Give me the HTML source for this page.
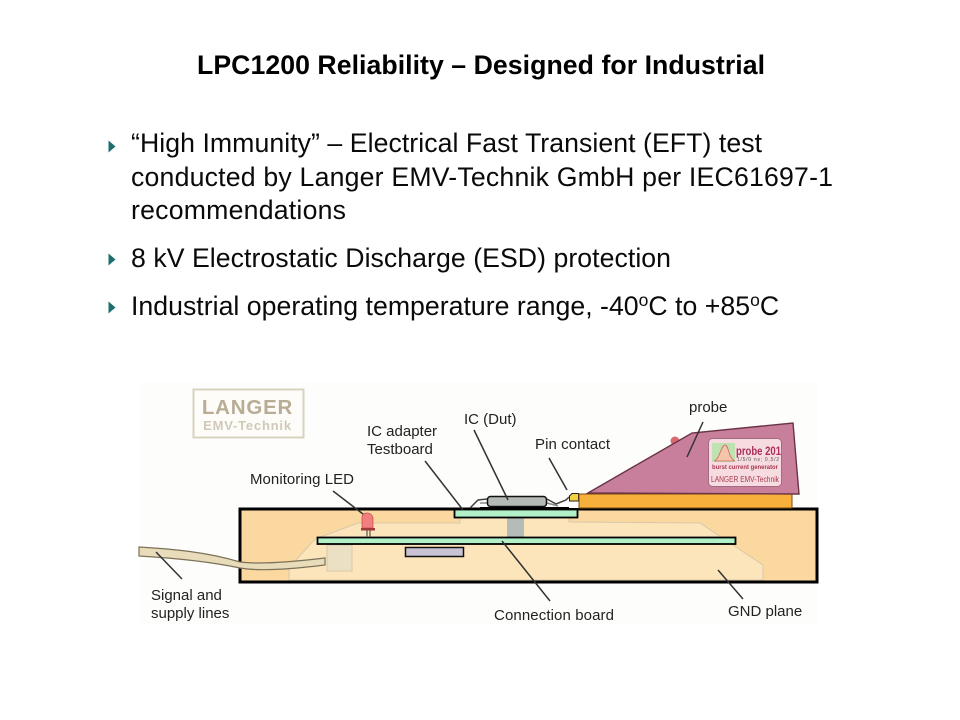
<!DOCTYPE html>
<html><head><meta charset="utf-8"><style>
html,body{margin:0;padding:0;background:#fff;width:960px;height:720px;overflow:hidden}
svg{display:block}
text{font-family:"Liberation Sans",Arial,sans-serif}
.b{font-size:26.67px;fill:#0a0a0a}
.l{font-size:15px;fill:#222}
.ld{stroke:#333;stroke-width:1.500;fill:none}
</style></head><body>
<svg width="960" height="720" viewBox="0 0 960 720" xmlns="http://www.w3.org/2000/svg">
<text x="481" y="74" text-anchor="middle" font-size="26.67" font-weight="bold" fill="#000" textLength="568" lengthAdjust="spacing">LPC1200 Reliability – Designed for Industrial</text>
<g fill="#1f6e6e"><path d="M108.500 140.500L115.500 146.500L108.500 152.500Z"/><path d="M108.500 253.500L115.500 259.500L108.500 265.500Z"/><path d="M108.500 301.500L115.500 307.500L108.500 313.500Z"/></g>
<text class="b" x="131" y="152" textLength="631" lengthAdjust="spacing">“High Immunity” – Electrical Fast Transient (EFT) test</text>
<text class="b" x="131" y="186" textLength="702" lengthAdjust="spacing">conducted by Langer EMV-Technik GmbH per IEC61697-1</text>
<text class="b" x="131" y="219" textLength="215" lengthAdjust="spacing">recommendations</text>
<text class="b" x="131" y="267" textLength="540" lengthAdjust="spacing">8 kV Electrostatic Discharge (ESD) protection</text>
<text class="b" x="131" y="315" letter-spacing=".02">Industrial operating temperature range, -40<tspan font-size="17.500" dy="-9">o</tspan><tspan dy="9">C to +85</tspan><tspan font-size="17.500" dy="-9">o</tspan><tspan dy="9">C</tspan></text>

<g style="filter:blur(.3px)">
<rect x="140" y="382" width="678" height="243" fill="#fdfdfb"/>
<rect x="193.500" y="389.500" width="110" height="48" fill="#fdfcf8" stroke="#d9d2c0" stroke-width="2"/>
<text x="247.500" y="414" text-anchor="middle" font-size="20.500" font-weight="bold" fill="#b8ac94" letter-spacing=".8">LANGER</text>
<text x="247.500" y="430" text-anchor="middle" font-size="13" font-weight="bold" fill="#d0c9b8" letter-spacing=".8">EMV-Technik</text>

<rect x="240" y="509" width="577" height="73" fill="#fbd8a0" stroke="#000" stroke-width="3"/>
<path d="M289 580V568L295 561L315 539L358 523H460V518H569V522L700 523L763 565V580Z" fill="#fde5bb" stroke="#d8c8a8" stroke-width="1"/>
<rect x="327" y="545" width="25" height="26" fill="#ece0c4" stroke="#d8c8a8"/>
<path d="M139 547C173 549 207 552 240 562C263 565 300 561 325 558V565C300 568 263 572 240 568C207 561 173 558 139 556Z" fill="#e9dcbb" stroke="#7c7258" stroke-width="1.200"/>
<rect x="405.500" y="547.500" width="58" height="9" fill="#c9c3d4" stroke="#111" stroke-width="1.500"/>
<rect x="507" y="518" width="17" height="19" fill="#b4bcb8"/>
<rect x="317.500" y="537.500" width="418" height="6.500" fill="#b2f0c8" stroke="#000" stroke-width="1.800"/>
<rect x="454.500" y="509.500" width="123" height="8" fill="#b2f0c8" stroke="#000" stroke-width="1.800"/>

<path d="M367 530V537M370 530V537" stroke="#555" stroke-width="1.200"/>
<path d="M362 528V518Q362 513 367 513Q372 513 373 518V528Z" fill="#f27f7f" stroke="#c85050" stroke-width=".8"/>
<rect x="361" y="528" width="14" height="2.500" fill="#a03a3a"/>

<path d="M470 508L478 500L487 499M547 499L556 504L566 500L569 497" fill="none" stroke="#444" stroke-width="1.500"/>
<path d="M480 503L487 503M547 503L558 506" fill="none" stroke="#888" stroke-width="1.500"/>
<rect x="487.500" y="496.500" width="59" height="10" rx="3" fill="#b4bab6" stroke="#111" stroke-width="1.500"/>
<rect x="480" y="507" width="98" height="2" fill="#000"/>
<rect x="569" y="501" width="10" height="7" fill="#fff"/>
<path d="M569.500 501V496L572 493.500H578.500V501Z" fill="#f6d040" stroke="#222" stroke-width="1"/>

<rect x="579" y="494" width="213" height="14" fill="#f8b03c" stroke="#7a4a10" stroke-width="1"/>
<circle cx="675" cy="441" r="4.500" fill="#d96a70"/>
<path d="M588 493L692 433L793 423L799 494Z" fill="#c87f9b" stroke="#6a3346" stroke-width="1.400"/>
<rect x="708.500" y="438.500" width="73" height="48" rx="4" fill="#f6dbe0" stroke="#a56a80" stroke-width="1"/>
<rect x="712" y="443" width="23" height="19" fill="#bfe3b0"/>
<path d="M714 461C720 459 721 445 725 445C729 445 728 458 735 461Z" fill="#f4c5a8" stroke="#c66" stroke-width=".8"/>
<text x="736" y="455" font-size="12" font-weight="bold" fill="#a8305a" textLength="45" lengthAdjust="spacingAndGlyphs">probe 201</text>
<text x="737" y="461" font-size="5" fill="#555" textLength="42" lengthAdjust="spacing">1/5/0 ns; 0,5/2</text>
<text x="712" y="469" font-size="6.500" font-weight="bold" fill="#a83a50" textLength="66" lengthAdjust="spacingAndGlyphs">burst current generator</text>
<text x="711" y="482" font-size="8.500" fill="#a83a50" textLength="68" lengthAdjust="spacingAndGlyphs">LANGER EMV-Technik</text>

<path class="ld" d="M156 552L182 579"/>
<path class="ld" d="M333 491L363 514"/>
<path class="ld" d="M425 461L463 510"/>
<path class="ld" d="M474 430L508 500"/>
<path class="ld" d="M549 458L567 490"/>
<path class="ld" d="M703 422L687 457"/>
<path class="ld" d="M502 541L550 601"/>
<path class="ld" d="M718 570L743 599"/>
<text class="l" x="250" y="484" textLength="104">Monitoring LED</text>
<text class="l" x="367" y="436">IC adapter</text>
<text class="l" x="367" y="454">Testboard</text>
<text class="l" x="464" y="424">IC (Dut)</text>
<text class="l" x="535" y="449" textLength="75">Pin contact</text>
<text class="l" x="689" y="412">probe</text>
<text class="l" x="151" y="600">Signal and</text>
<text class="l" x="151" y="618">supply lines</text>
<text class="l" x="494" y="620" textLength="120">Connection board</text>
<text class="l" x="728" y="616">GND plane</text>
</g>
</svg>
</body></html>
